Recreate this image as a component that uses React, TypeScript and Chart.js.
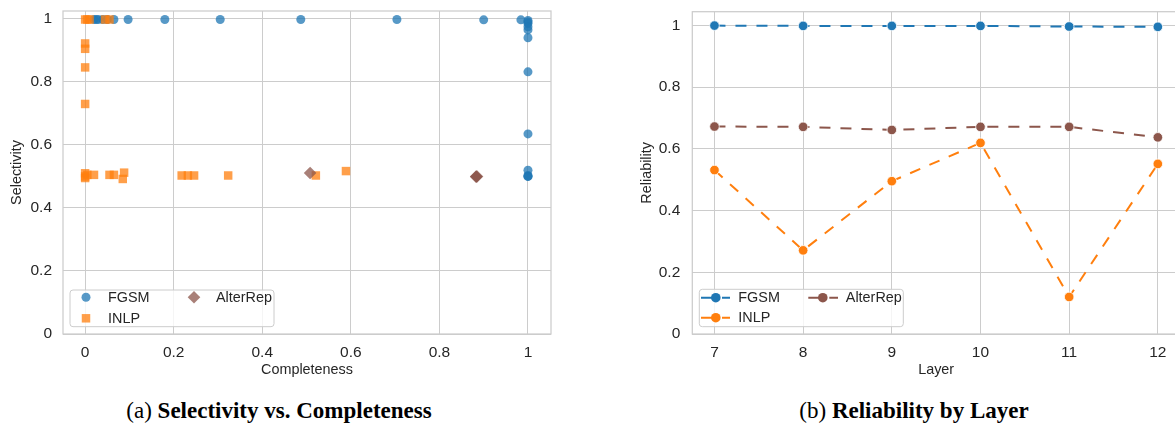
import React, { useEffect, useRef } from "react";
import { Chart, registerables } from "chart.js";

Chart.register(...registerables);

const FONT = "'Liberation Sans', Arial, Helvetica, sans-serif";
const TEXT = "#262626";
const GRID = "#cccccc";

// ---------- Panel (a): Selectivity vs. Completeness ----------
const seriesNames = ["FGSM", "INLP", "AlterRep"];
const seriesColors = ["#1f77b4", "#ff7f0e", "#8c564b"];
const scatterStyles = ["circle", "rect", "rectRot"];
const scatterRadii = [4.5, 6, 6.3];

const fgsmCompleteness = [0.02, 0.025, 0.03, 0.04, 0.05, 0.065, 0.097, 0.18, 0.305, 0.487, 0.704, 0.9, 0.984, 1, 1, 1, 1, 1, 1, 1, 1, 1, 1, 1, 1];
const fgsmSelectivity = [0.998, 0.998, 0.998, 0.998, 0.998, 0.998, 0.998, 0.998, 0.998, 0.998, 0.998, 0.997, 0.997, 0.995, 0.99, 0.985, 0.975, 0.965, 0.94, 0.832, 0.635, 0.52, 0.503, 0.5, 0.5];

const inlpCompleteness = [0, 0.005, 0.01, 0.045, 0.055, 0, 0, 0, 0, 0, 0, 0, 0.005, 0.02, 0.055, 0.065, 0.088, 0.085, 0.218, 0.232, 0.246, 0.323, 0.521, 0.589];
const inlpSelectivity = [0.998, 0.998, 0.998, 0.998, 0.998, 0.922, 0.905, 0.846, 0.73, 0.51, 0.5, 0.495, 0.505, 0.505, 0.505, 0.505, 0.512, 0.492, 0.503, 0.503, 0.503, 0.503, 0.503, 0.517];

const alterRepCompleteness = [0.508, 0.883, 0.883, 0.885];
const alterRepSelectivity = [0.511, 0.5, 0.499, 0.5];

const completenessTicks = [0, 0.2, 0.4, 0.6, 0.8, 1];

// ---------- Panel (b): Reliability by Layer ----------
const layers = [7, 8, 9, 10, 11, 12];
const fgsmReliability = [0.999, 0.998, 0.998, 0.998, 0.996, 0.995];
const inlpReliability = [0.531, 0.271, 0.495, 0.619, 0.12, 0.551];
const alterRepReliability = [0.672, 0.671, 0.661, 0.671, 0.671, 0.637];

const captionA = ["(a) ", "Selectivity vs. Completeness"];
const captionB = ["(b) ", "Reliability by Layer"];

function rgba(hex: string, a: number) {
  const n = parseInt(hex.slice(1), 16);
  return `rgba(${(n >> 16) & 255},${(n >> 8) & 255},${n & 255},${a})`;
}

function fmt(v: number) {
  return String(Math.round(v * 10) / 10);
}

function drawMarker(ctx: CanvasRenderingContext2D, style: string, x: number, y: number, r: number) {
  ctx.beginPath();
  if (style === "circle") {
    ctx.arc(x, y, r, 0, Math.PI * 2);
  } else if (style === "rect") {
    const s = Math.SQRT1_2 * r;
    ctx.rect(x - s, y - s, 2 * s, 2 * s);
  } else {
    ctx.moveTo(x - r, y);
    ctx.lineTo(x, y - r);
    ctx.lineTo(x + r, y);
    ctx.lineTo(x, y + r);
    ctx.closePath();
  }
  ctx.fill();
}

const framePlugin = {
  id: "frame",
  afterDraw(chart: any) {
    const { ctx, chartArea } = chart;
    ctx.save();
    ctx.strokeStyle = GRID;
    ctx.lineWidth = 1.25;
    ctx.strokeRect(chartArea.left, chartArea.top, chartArea.right - chartArea.left, chartArea.bottom - chartArea.top);
    ctx.restore();
  },
};

const boxLegendPlugin = {
  id: "boxLegend",
  afterDraw(chart: any, _args: any, opts: any) {
    const { ctx, chartArea } = chart;
    const x0 = chartArea.left + opts.dx;
    const y0 = chartArea.bottom - opts.dy - opts.h;
    ctx.save();
    ctx.beginPath();
    if ((ctx as any).roundRect) (ctx as any).roundRect(x0, y0, opts.w, opts.h, 3);
    else ctx.rect(x0, y0, opts.w, opts.h);
    ctx.fillStyle = "rgba(255,255,255,0.8)";
    ctx.fill();
    ctx.strokeStyle = GRID;
    ctx.lineWidth = 1;
    ctx.stroke();
    ctx.font = `${opts.fontSize}px ${FONT}`;
    ctx.textBaseline = "middle";
    ctx.textAlign = "left";
    chart.data.datasets.forEach((ds: any, i: number) => {
      const col = Math.floor(i / 2);
      const row = i % 2;
      const ry = y0 + opts.rowY[row];
      const mx = x0 + opts.markerX[col];
      if (opts.kind === "line") {
        ctx.save();
        ctx.strokeStyle = ds.borderColor;
        ctx.lineWidth = ds.borderWidth;
        ctx.setLineDash(ds.borderDash);
        ctx.beginPath();
        ctx.moveTo(x0 + opts.lineX[col][0], ry);
        ctx.lineTo(x0 + opts.lineX[col][1], ry);
        ctx.stroke();
        ctx.restore();
        ctx.fillStyle = ds.pointBackgroundColor;
        drawMarker(ctx, "circle", mx, ry, ds.pointRadius);
      } else {
        ctx.fillStyle = ds.backgroundColor;
        drawMarker(ctx, ds.pointStyle, mx, ry, ds.pointRadius);
      }
      ctx.fillStyle = TEXT;
      ctx.fillText(ds.label, x0 + opts.textX[col], ry + 0.5);
    });
    ctx.restore();
  },
};

function baseScale(extra: any) {
  return {
    type: "linear",
    grid: { color: GRID, lineWidth: 1, drawTicks: false },
    border: { display: false },
    ...extra,
  };
}

const fitY = (w: number) => (s: any) => {
  s.width = w;
  s.paddingTop = 0;
  s.paddingBottom = 0;
};
const fitX = (h: number) => (s: any) => {
  s.height = h;
  s.paddingLeft = 0;
  s.paddingRight = 0;
};

function ScatterPanel() {
  const ref = useRef<HTMLCanvasElement | null>(null);
  useEffect(() => {
    if (!ref.current) return;
    const xs = [fgsmCompleteness, inlpCompleteness, alterRepCompleteness];
    const ys = [fgsmSelectivity, inlpSelectivity, alterRepSelectivity];
    const chart = new Chart(ref.current, {
      type: "scatter",
      data: {
        datasets: seriesNames.map((name, i) => ({
          label: name,
          data: xs[i].map((x, j) => ({ x, y: ys[i][j] })),
          backgroundColor: rgba(seriesColors[i], 0.75),
          borderWidth: 0,
          pointStyle: scatterStyles[i],
          pointRadius: scatterRadii[i],
          order: 3 - i,
        })),
      },
      options: {
        animation: false,
        responsive: false,
        events: [],
        layout: { padding: { top: 11, right: 9, bottom: 0, left: 0 } },
        plugins: {
          legend: { display: false },
          tooltip: { enabled: false },
          boxLegend: {
            kind: "scatter",
            dx: 7,
            dy: 7.3,
            w: 204,
            h: 36.7,
            fontSize: 14.4,
            markerX: [16, 124],
            textX: [38, 146],
            rowY: [7.3, 28.3],
          },
        } as any,
        scales: {
          x: baseScale({
            min: -0.05,
            max: 1.052,
            afterBuildTicks: (s: any) => {
              s.ticks = completenessTicks.map((v) => ({ value: v }));
            },
            afterFit: fitX(45),
            ticks: { font: { family: FONT, size: 15.5 }, color: TEXT, padding: 9, callback: (v: any) => fmt(v), maxRotation: 0 },
            title: { display: true, text: "Completeness", font: { family: FONT, size: 14.4 }, color: TEXT, padding: { top: 0, bottom: 0 } },
          }),
          y: baseScale({
            min: 0,
            max: 1.025,
            ticks: { stepSize: 0.2, includeBounds: false, font: { family: FONT, size: 15.5 }, color: TEXT, padding: 11, callback: (v: any) => fmt(v) },
            afterFit: fitY(63),
            title: { display: true, text: "Selectivity", font: { family: FONT, size: 14.4 }, color: TEXT, padding: { top: 8.6, bottom: 0 } },
          }),
        },
      } as any,
      plugins: [framePlugin, boxLegendPlugin],
    });
    return () => chart.destroy();
  }, []);
  return <canvas ref={ref} width={560} height={379} style={{ position: "absolute", left: 0, top: 0, display: "block" }} />;
}

function LinePanel() {
  const ref = useRef<HTMLCanvasElement | null>(null);
  useEffect(() => {
    if (!ref.current) return;
    const vals = [fgsmReliability, inlpReliability, alterRepReliability];
    const chart = new Chart(ref.current, {
      type: "line",
      data: {
        datasets: seriesNames.map((name, i) => ({
          label: name,
          data: layers.map((l, j) => ({ x: l, y: vals[i][j] })),
          borderColor: seriesColors[i],
          backgroundColor: seriesColors[i],
          pointBackgroundColor: seriesColors[i],
          pointBorderColor: "#ffffff",
          pointBorderWidth: 0.8,
          pointRadius: 4.8,
          borderWidth: 2,
          borderDash: [11, 10],
          fill: false,
          tension: 0,
          order: 3 - i,
        })),
      },
      options: {
        animation: false,
        responsive: false,
        events: [],
        layout: { padding: { top: 11.7, right: 10, bottom: 0, left: 0 } },
        plugins: {
          legend: { display: false },
          tooltip: { enabled: false },
          boxLegend: {
            kind: "line",
            dx: 7,
            dy: 7.3,
            w: 204,
            h: 37.4,
            fontSize: 14.4,
            markerX: [16.5, 123.5],
            lineX: [
              [1.7, 30.7],
              [109, 138.7],
            ],
            textX: [39, 146.5],
            rowY: [8.4, 28.4],
          },
        } as any,
        scales: {
          x: baseScale({
            min: 6.75,
            max: 12.25,
            afterBuildTicks: (s: any) => {
              s.ticks = layers.map((v) => ({ value: v }));
            },
            afterFit: fitX(45),
            ticks: { font: { family: FONT, size: 15.5 }, color: TEXT, padding: 9, maxRotation: 0, callback: (v: any) => String(v) },
            title: { display: true, text: "Layer", font: { family: FONT, size: 14.4 }, color: TEXT, padding: { top: 0, bottom: 0 } },
          }),
          y: baseScale({
            min: 0,
            max: 1.044,
            ticks: { stepSize: 0.2, includeBounds: false, font: { family: FONT, size: 15.5 }, color: TEXT, padding: 12, callback: (v: any) => fmt(v) },
            afterFit: fitY(62.3),
            title: { display: true, text: "Reliability", font: { family: FONT, size: 14.4 }, color: TEXT, padding: { top: 8.3, bottom: 0 } },
          }),
        },
      } as any,
      plugins: [framePlugin, boxLegendPlugin],
    });
    return () => chart.destroy();
  }, []);
  return <canvas ref={ref} width={560} height={379} style={{ position: "absolute", left: 630, top: 0, display: "block" }} />;
}

function Caption({ parts, center }: { parts: string[]; center: number }) {
  return (
    <div
      style={{
        position: "absolute",
        left: center - 300,
        width: 600,
        top: 399,
        textAlign: "center",
        fontFamily: "'Liberation Serif', 'Times New Roman', serif",
        fontSize: 23,
        lineHeight: "23px",
        color: "#000",
        whiteSpace: "nowrap",
      }}
    >
      <span>{parts[0]}</span>
      <span style={{ fontWeight: "bold" }}>{parts[1]}</span>
    </div>
  );
}

export default function App() {
  return (
    <div style={{ position: "absolute", left: 0, top: 0, width: 1175, height: 426, overflow: "hidden", background: "#fff" }}>
      <ScatterPanel />
      <LinePanel />
      <Caption parts={captionA} center={279} />
      <Caption parts={captionB} center={914} />
    </div>
  );
}
